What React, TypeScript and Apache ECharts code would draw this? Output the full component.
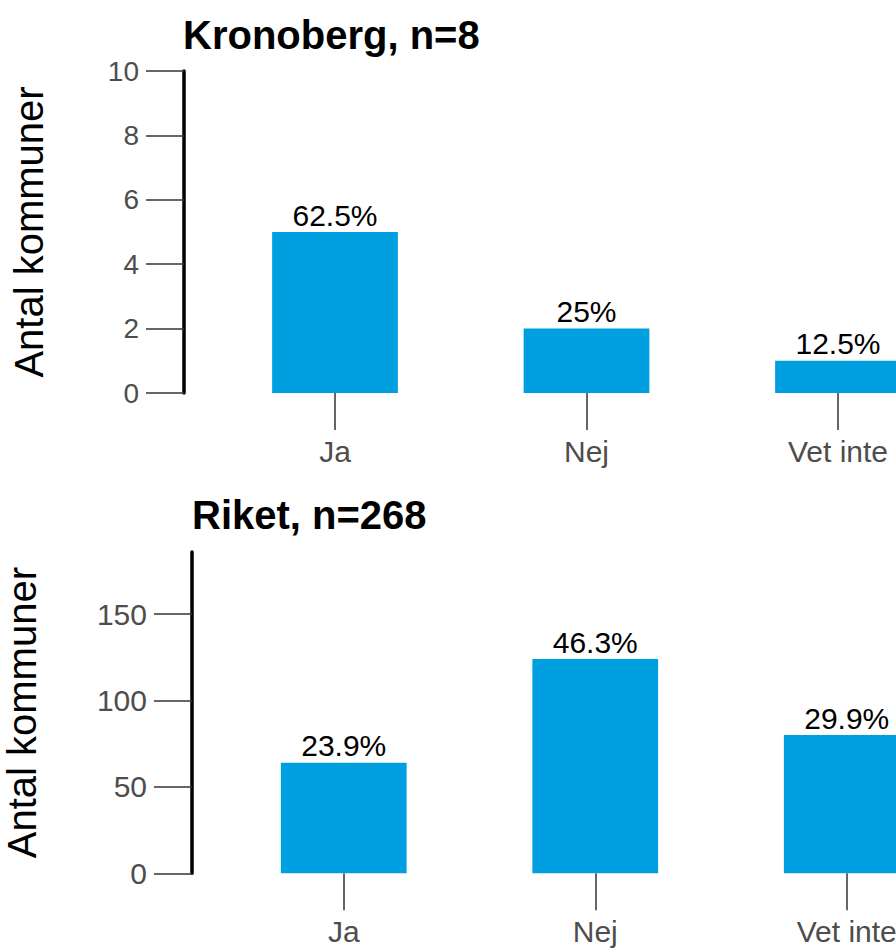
import React, { useEffect, useRef } from "react";
import * as echarts from "echarts";

const categories = ["Ja", "Nej", "Vet inte"];
const kronobergCounts = [5, 2, 1];
const kronobergPct = ["62.5%", "25%", "12.5%"];
const riketCounts = [64, 124, 80];
const riketPct = ["23.9%", "46.3%", "29.9%"];
const kronobergTicks = [0, 2, 4, 6, 8, 10];
const riketTicks = [0, 50, 100, 150];
const titles = ["Kronoberg, n=8", "Riket, n=268"];
const yTitle = "Antal kommuner";

const FONT = "'Liberation Sans', Arial, sans-serif";
const BAR = "#009FE0";

export default function App() {
  const ref = useRef<HTMLDivElement>(null);
  useEffect(() => {
    if (!ref.current) return;
    const chart = echarts.init(ref.current, undefined, { renderer: "svg" });
    const xAxisBase = (gridIndex: number) => ({
      type: "category",
      gridIndex,
      data: categories,
      boundaryGap: true,
      axisLine: { show: false },
      axisTick: {
        show: true,
        alignWithLabel: true,
        length: 37,
        lineStyle: { color: "#333333", width: 1.5 },
      },
      axisLabel: {
        color: "#4D4D4D",
        fontSize: 30,
        fontFamily: FONT,
        margin: 43,
      },
      splitLine: { show: false },
    });
    const yAxisBase = (
      gridIndex: number,
      max: number,
      ticks: number[],
      offset: number,
      gap: number,
      labelSize: number
    ) => ({
      type: "value",
      gridIndex,
      min: 0,
      max,
      offset,
      name: yTitle,
      nameLocation: "middle",
      nameRotate: 90,
      nameGap: gap,
      nameTextStyle: { fontSize: 40, color: "#000", fontFamily: FONT },
      axisLine: { show: true, lineStyle: { color: "#000", width: 3.5 } },
      axisTick: {
        show: true,
        length: 38,
        customValues: ticks,
        lineStyle: { color: "#333333", width: 1.5 },
      },
      axisLabel: {
        color: "#4D4D4D",
        fontSize: labelSize,
        fontFamily: FONT,
        margin: 45,
        customValues: ticks,
      },
      splitLine: { show: false },
    });
    const series = (idx: number, data: number[], pct: string[]) => ({
      type: "bar",
      xAxisIndex: idx,
      yAxisIndex: idx,
      data,
      barWidth: "50%",
      itemStyle: { color: BAR },
      label: {
        show: true,
        position: "top",
        distance: 2,
        color: "#000",
        fontSize: 30,
        fontFamily: FONT,
        formatter: (p: any) => pct[p.dataIndex],
      },
    });
    chart.setOption({
      animation: false,
      backgroundColor: "#fff",
      textStyle: { fontFamily: FONT },
      title: [
        {
          text: titles[0],
          left: 183,
          top: 15,
          padding: 0,
          textStyle: { fontSize: 40, fontWeight: "bold", color: "#000", fontFamily: FONT },
        },
        {
          text: titles[1],
          left: 192,
          top: 495,
          padding: 0,
          textStyle: { fontSize: 40, fontWeight: "bold", color: "#000", fontFamily: FONT },
        },
      ],
      grid: [
        { left: 209.25, top: 71, width: 754.5, height: 322, containLabel: false, outerBoundsMode: "none" },
        { left: 218, top: 552, width: 754.5, height: 321.3, containLabel: false, outerBoundsMode: "none" },
      ],
      xAxis: [xAxisBase(0), xAxisBase(1)],
      yAxis: [
        yAxisBase(0, 10, kronobergTicks, 25.25, 135, 28),
        yAxisBase(1, 186, riketTicks, 26, 150, 30),
      ],
      series: [series(0, kronobergCounts, kronobergPct), series(1, riketCounts, riketPct)],
    });
    return () => chart.dispose();
  }, []);
  return (
    <div
      style={{
        position: "fixed",
        left: 0,
        top: 0,
        width: 896,
        height: 949,
        overflow: "hidden",
        background: "#fff",
      }}
    >
      <div ref={ref} style={{ width: 1000, height: 1000 }} />
    </div>
  );
}
